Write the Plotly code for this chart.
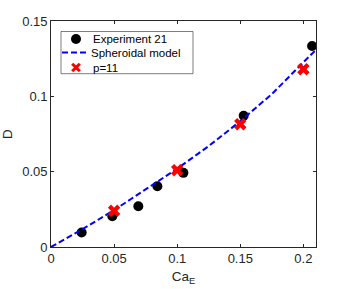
import plotly.graph_objects as go

exp_x = [0.0243, 0.0486, 0.0692, 0.0843, 0.1049, 0.1527, 0.2069]
exp_y = [0.0096, 0.0204, 0.0271, 0.0403, 0.0492, 0.0871, 0.1334]

model_x = [0, 0.025, 0.05, 0.075, 0.1, 0.125, 0.15, 0.175, 0.2, 0.21]
model_y = [0, 0.0118, 0.0245, 0.038, 0.052, 0.067, 0.0835, 0.1015, 0.1225, 0.131]

p_x = [0.05, 0.1, 0.15, 0.2]
p_y = [0.024, 0.051, 0.0815, 0.118]

xticks = [0, 0.05, 0.1, 0.15, 0.2]
xtick_labels = ["0", "0.05", "0.1", "0.15", "0.2"]
yticks = [0, 0.05, 0.1, 0.15]
ytick_labels = ["0", "0.05", "0.1", "0.15"]

legend_names = ["Experiment 21", "Spheroidal model", "p=11"]

W, H = 349, 289
ML, MR, MT, MB = 51, 33, 21, 42
PW, PH = W - ML - MR, H - MT - MB


def px_x(px):
    return (px - ML) / PW


def px_y(py):
    return (H - MB - py) / PH


BLUE = "#0000ff"
RED = "#ff0000"
DASH = "6px,3px"

fig = go.Figure()
fig.add_trace(go.Scatter(x=exp_x, y=exp_y, mode="markers", name=legend_names[0],
                         marker=dict(color="black", size=10, symbol="circle")))
fig.add_trace(go.Scatter(x=model_x, y=model_y, mode="lines", name=legend_names[1],
                         line=dict(color=BLUE, width=2, dash=DASH)))
fig.add_trace(go.Scatter(x=p_x, y=p_y, mode="markers", name=legend_names[2],
                         marker=dict(color=RED, size=11, symbol="x",
                                     line=dict(width=0))))

# custom legend (MATLAB-like compact layout)
shapes = [
    dict(type="rect", xref="paper", yref="paper",
         x0=px_x(61), x1=px_x(193), y0=px_y(73.7), y1=px_y(31.5),
         line=dict(color="#262626", width=0.6), fillcolor="white", layer="above"),
    dict(type="circle", xref="paper", yref="paper", xsizemode="pixel", ysizemode="pixel",
         xanchor=px_x(76), yanchor=px_y(39), x0=-5, x1=5, y0=-5, y1=5,
         fillcolor="black", line=dict(width=0), layer="above"),
    dict(type="line", xref="paper", yref="paper",
         x0=px_x(62), x1=px_x(88.5), y0=px_y(52.5), y1=px_y(52.5),
         line=dict(color=BLUE, width=2, dash=DASH), layer="above"),
    dict(type="line", xref="paper", yref="paper", xsizemode="pixel", ysizemode="pixel",
         xanchor=px_x(76), yanchor=px_y(67.5), x0=-3.8, x1=3.8, y0=-3.8, y1=3.8,
         line=dict(color=RED, width=3), layer="above"),
    dict(type="line", xref="paper", yref="paper", xsizemode="pixel", ysizemode="pixel",
         xanchor=px_x(76), yanchor=px_y(67.5), x0=-3.8, x1=3.8, y0=3.8, y1=-3.8,
         line=dict(color=RED, width=3), layer="above"),
]
row_y = [39, 52.5, 67.5]
row_x = [91, 89, 91]
annotations = [
    dict(text=name, xref="paper", yref="paper", x=px_x(rx), y=px_y(ry),
         xanchor="left", yanchor="middle", showarrow=False,
         font=dict(family="Liberation Sans, Arial", size=11.5, color="black"))
    for name, rx, ry in zip(legend_names, row_x, row_y)
]

axis_common = dict(showline=True, linecolor="#262626", linewidth=0.6, mirror="ticks",
                   ticks="inside", ticklen=3, tickcolor="#262626", tickwidth=0.6,
                   showgrid=False, zeroline=False, automargin=False,
                   tickfont=dict(family="Liberation Sans, Arial", size=13, color="#262626"))

fig.update_layout(
    width=W, height=H,
    margin=dict(l=ML, r=MR, t=MT, b=MB),
    paper_bgcolor="white", plot_bgcolor="white",
    font=dict(family="Liberation Sans, Arial", size=13, color="#262626"),
    xaxis=dict(range=[0, 0.21], tickvals=xticks, ticktext=xtick_labels,
               title=dict(text="Ca<sub>E</sub>", standoff=6,
                          font=dict(size=13.5, color="#262626")), **axis_common),
    yaxis=dict(range=[0, 0.15], tickvals=yticks, ticktext=ytick_labels,
               title=dict(text="D", standoff=8,
                          font=dict(size=13.5, color="#262626")), **axis_common),
    showlegend=False,
    shapes=shapes,
    annotations=annotations,
)

fig.write_html("out.html", config={"displayModeBar": False},
               post_script="document.body.style.margin='0';")
